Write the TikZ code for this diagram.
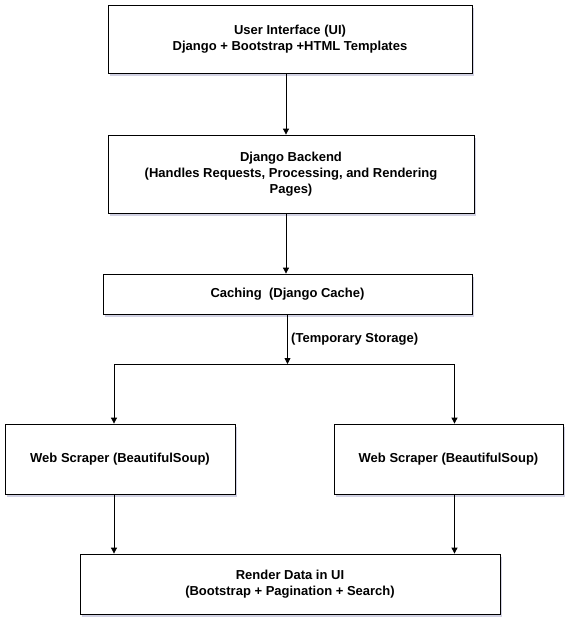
\documentclass[tikz,border=0pt]{standalone}
\usepackage{fontspec}
\setmainfont{Liberation Sans}
\usepackage{tikz}
\usetikzlibrary{arrows.meta,shadows,positioning}

\begin{document}
\begin{tikzpicture}[x=1pt,y=-1pt,
		box/.style={draw,thick,fill=white,align=center,inner sep=0pt,
			font=\bfseries\fontsize{13}{16}\selectfont,
			drop shadow={shadow xshift=2pt,shadow yshift=-2.5pt,fill=black!60!blue,opacity=.18}},
		flow/.style={draw,thick,-{Triangle[length=6pt,width=6pt]}}
	]
	\useasboundingbox (0,0) rectangle (582,633);
	% boxes
	\node[box,minimum width=364pt,minimum height=68pt] (ui) at (290,39)
		{User Interface (UI)\\Django + Bootstrap +HTML Templates};
	\node[box,minimum width=366pt,minimum height=78pt] (backend) at (291,174)
		{Django Backend\\ (Handles Requests, Processing, and Rendering\\Pages)};
	\node[box,minimum width=369pt,minimum height=40pt] (cache) at (287.5,294)
		{Caching\ \ (Django Cache)};
	\node[box,minimum width=230pt,minimum height=70pt] (scraperL) at (120,459)
		{Web Scraper (BeautifulSoup)};
	\node[box,minimum width=229pt,minimum height=70pt] (scraperR) at (448.5,459)
		{Web Scraper (BeautifulSoup)};
	\node[box,minimum width=420pt,minimum height=60pt] (render) at (290,584)
		{Render Data in UI\\(Bootstrap + Pagination + Search)};
	\coordinate (split) at (0,364);
	% connectors
	\draw[flow] ([xshift=-4pt]ui.south) -- ([xshift=-4pt]ui.south |- backend.north);
	\draw[flow] ([xshift=-5pt]backend.south) -- ([xshift=-5pt]backend.south |- cache.north);
	\draw[flow] (cache.south) -- node[right,font=\bfseries\fontsize{13}{15}\selectfont]{(Temporary Storage)} (cache.south |- split);
	\draw[thick] ([xshift=-6pt]scraperL.north |- split) -- ([xshift=6pt]scraperR.north |- split);
	\draw[flow] ([xshift=-6pt]scraperL.north |- split) -- ([xshift=-6pt]scraperL.north);
	\draw[flow] ([xshift=6pt]scraperR.north |- split) -- ([xshift=6pt]scraperR.north);
	\draw[flow] ([xshift=-6pt]scraperL.south) -- ([xshift=-6pt]scraperL.south |- render.north);
	\draw[flow] ([xshift=6pt]scraperR.south) -- ([xshift=6pt]scraperR.south |- render.north);
\end{tikzpicture}
\end{document}
